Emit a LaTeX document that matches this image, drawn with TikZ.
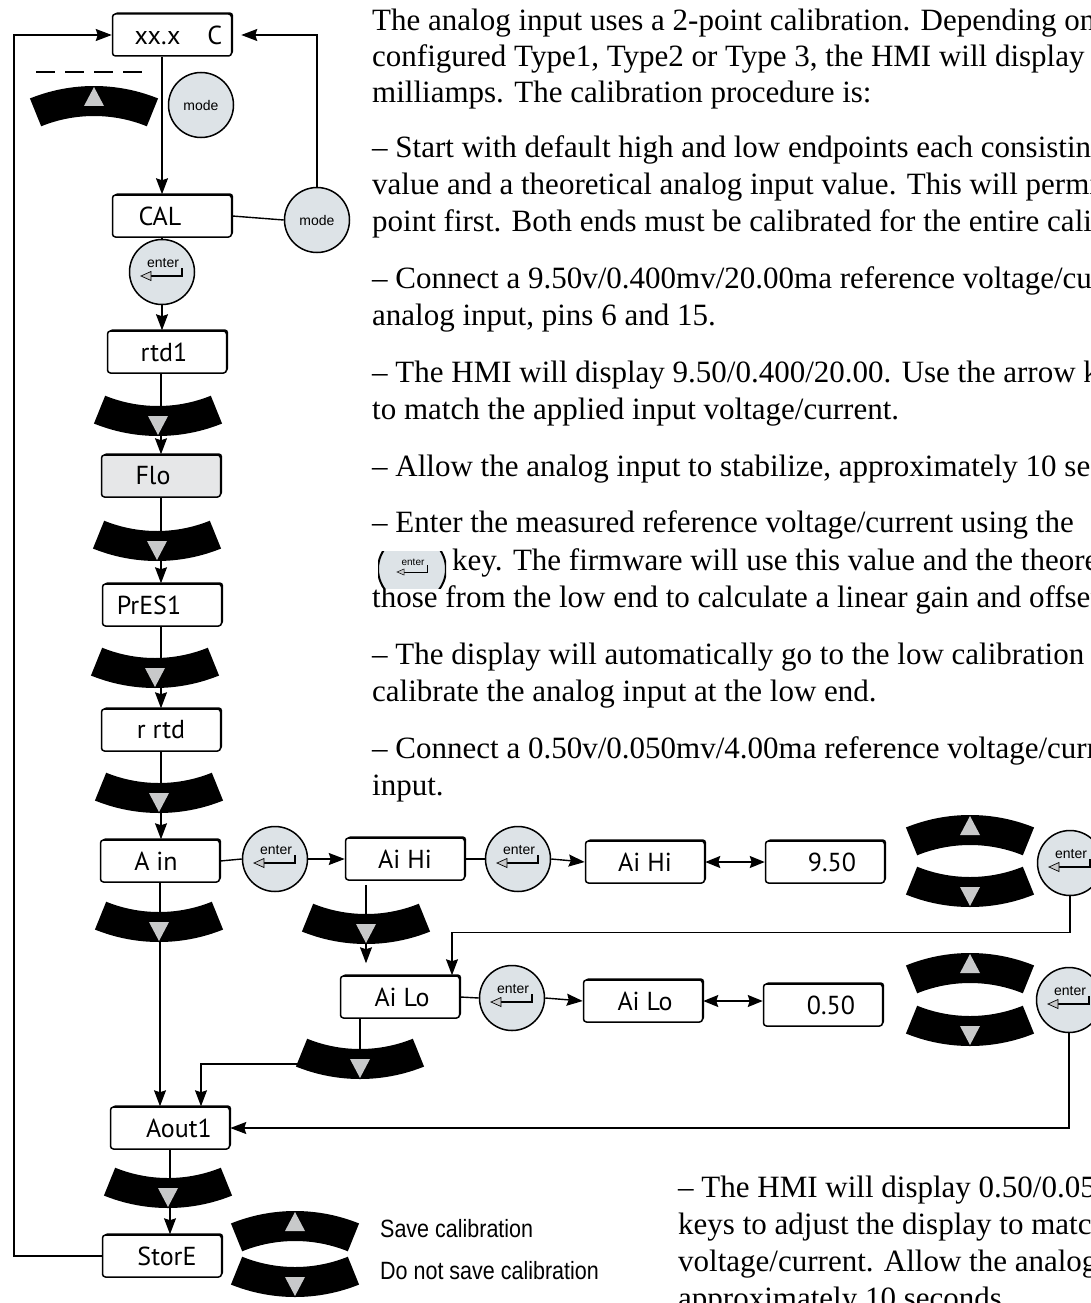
\documentclass[tikz,border=0pt]{standalone}
\usepackage{fontspec}
\setmainfont{Liberation Serif}
\newfontfamily\boxfont{PT Sans}
\newfontfamily\btnfont{Liberation Sans}
\newfontfamily\condfont{Liberation Sans}[FakeStretch=0.86]
\usetikzlibrary{calc,shadows,arrows.meta}
\definecolor{btngrey}{HTML}{DDE3E7}
\definecolor{flogrey}{HTML}{E6E7E8}
\definecolor{trigrey}{HTML}{C8C9CA}
\pgfdeclarelayer{bg}
\pgfsetlayers{bg,main}
\tikzset{
  box/.style={draw, line width=1.5pt, rounded corners=3pt, fill=white,
    minimum width=119pt, minimum height=42pt, inner sep=0pt,
    font=\boxfont\fontsize{26}{26}\selectfont,
    general shadow={fill=black, shadow xshift=1.6pt, shadow yshift=1.6pt}},
  btn/.style={circle, draw, line width=1.5pt, fill=btngrey, minimum size=65pt, inner sep=0pt},
  modetxt/.style={font=\btnfont\fontsize{14}{14}\selectfont},
  entxt/.style={inner sep=0pt, font=\btnfont\fontsize{14}{14}\selectfont},
  conn/.style={line width=1.4pt},
  arr/.style={conn, -{Stealth[length=16pt,width=12pt,inset=2pt]}},
  darr/.style={conn, {Stealth[length=15pt,width=12pt,inset=2pt]}-{Stealth[length=15pt,width=12pt,inset=2pt]}},
  para/.style={anchor=mid west, inner sep=0pt, font=\fontsize{31}{37}\selectfont},
  cond/.style={anchor=mid west, inner sep=0pt, font=\condfont\fontsize{25}{25}\selectfont},
}
% arc-shaped arrow key: name, x, y, 1 = down key, -1 = up key
\newcommand{\keyband}[4]{%
  \coordinate (#1) at (#2,#3);
  \begin{scope}[shift={(#2,#3)}, yscale=#4]
    \fill[black] ([shift={(0,-156)}]68:141) arc[start angle=68, end angle=112, radius=141]
      -- ([shift={(0,-156)}]112:171) arc[start angle=112, end angle=68, radius=171] -- cycle;
    \fill[trigrey] (-10,-5) -- (10,-5) -- (0,14) -- cycle;
  \end{scope}}
% enter button: name, x, y
\newcommand{\enterbtn}[3]{%
  \node[btn] (#1) at (#2,#3) {};
  \node[entxt] (#1-t) at ([shift={(1,-9)}]#1.center) {enter};
  \draw[line width=1.3pt] ([shift={(20,-4)}]#1.center) -- ([shift={(20,4)}]#1.center) -- ([shift={(-11,4)}]#1.center);
  \filldraw[fill=trigrey, line width=0.7pt] ([shift={(-11,-0.5)}]#1.center) -- ([shift={(-11,8.5)}]#1.center) -- ([shift={(-21,4)}]#1.center) -- cycle;}
\begin{document}
\begin{tikzpicture}[x=1pt,y=-1pt]
\useasboundingbox (0,0) rectangle (1091,1303);
\clip (0,0) rectangle (1091,1303);

% ---------- boxes
\node[box] (xx) at (172,35) {\hspace*{13pt}xx.x\hspace{27pt}C};
\node[box] (cal) at (172,216) {\hspace*{-24pt}CAL};
\node[box] (rtd) at (167,352) {\hspace*{-6pt}rtd1};
\node[box, fill=flogrey] (flo) at (161,476) {\hspace*{-16pt}Flo};
\node[box] (pres) at (162,605) {\hspace*{-26pt}PrES1};
\node[box] (rrtd) at (161,730) {r rtd};
\node[box] (ain) at (160,861) {\hspace*{-8pt}A in};
\node[box] (aihi) at (405,859) {Ai Hi};
\node[box] (aihiB) at (645,862) {Ai Hi};
\node[box] (v950) at (825,862) {\hspace*{14pt}9.50};
\node[box] (ailo) at (400,997) {\hspace*{4pt}Ai Lo};
\node[box] (ailoB) at (643,1001) {\hspace*{4pt}Ai Lo};
\node[box] (v050) at (823,1005) {\hspace*{16pt}0.50};
\node[box] (aout) at (170,1128) {\hspace*{18pt}Aout1};
\node[box] (store) at (162,1256) {\hspace*{10pt}StorE};

% ---------- buttons
\node[btn, modetxt] (mode1) at (201,105) {mode};
\node[btn, modetxt] (mode2) at (317,220) {mode};
\enterbtn{ent0}{162}{272}
\enterbtn{ent1}{275}{859}
\enterbtn{ent2}{518}{859}
\enterbtn{ent3}{512}{998}
\enterbtn{entR1}{1070}{863}
\enterbtn{entR2}{1069}{1000}

% ---------- arrow keys
\keyband{kT}{94}{101}{-1}
\keyband{k1}{158}{421}{1}
\keyband{k2}{157}{546}{1}
\keyband{k3}{155}{673}{1}
\keyband{k4}{159}{798}{1}
\keyband{k5}{159}{927}{1}
\keyband{k6}{366}{929}{1}
\keyband{k7}{360}{1064}{1}
\keyband{k8}{168}{1193}{1}
\keyband{kR1u}{970}{830}{-1}
\keyband{kR1d}{970}{892}{1}
\keyband{kR2u}{970}{968}{-1}
\keyband{kR2d}{970}{1031}{1}
\keyband{kSu}{295}{1226}{-1}
\keyband{kSd}{295}{1282}{1}

\draw[line width=1.3pt, dash pattern=on 19pt off 10pt] (36,72) -- (142,72);

% ---------- connectors
\begin{pgfonlayer}{bg}
\coordinate (lft) at (14,0);
\draw[arr] ([xshift=-10pt]xx.south) -- ([xshift=-10pt]xx.south |- cal.north);
\draw[conn] (cal.east) -- (mode2.west);
\draw[arr, shorten >=9pt] (mode2.north) |- (xx.east);
\draw[conn] (cal.south -| ent0) -- (ent0);
\draw[arr] (ent0.south) -- (ent0.south |- rtd.north);
\draw[arr] (flo.north |- rtd.south) -- (flo.north);
\draw[arr] (flo.south) -- (flo.south |- pres.north);
\draw[arr] (rrtd.north |- pres.south) -- (rrtd.north);
\draw[arr] (rrtd.south) -- (rrtd.south |- ain.north);
\draw[arr] (ain.south) -- (ain.south |- aout.north);
\draw[arr] (aout.south) -- (aout.south |- store.north);
\draw[arr] (store.west) -- (store.west -| lft) |- (xx.west);
\draw[conn] (ain.east) -- (ent1.west);
\draw[arr] (ent1.east) -- (aihi.west);
\draw[conn] (aihi.east) -- (ent2.west);
\draw[arr] (ent2.east) -- (aihiB.west);
\draw[darr] (aihiB.east) -- (v950.west);
\draw[arr, shorten <=4pt, shorten >=12pt] (k6 |- aihi.south) -- (k6 |- ailo.north);
\draw[arr] (entR1.south) -- ++(0,36) -| ([xshift=52pt]ailo.north);
\draw[conn] (ailo.east) -- (ent3.west);
\draw[arr] (ent3.east) -- (ailoB.west);
\draw[darr] (ailoB.east) -- (ailoB.east -| v050.west);
\draw[conn] (k7 |- ailo.south) -- (k7);
\draw[arr] (k7) -| ([xshift=31pt]aout.north);
\draw[arr] (entR2.south) |- (aout.east);
\end{pgfonlayer}

% ---------- text
\node[para] (t1) at (372,28) {The analog input uses a 2-point calibration. Depending on};
\node[para] (t2) at (372,64) {configured Type1, Type2 or Type 3, the HMI will display either};
\node[para] (t3) at (372,100) {milliamps. The calibration procedure is:};
\node[para] (t4) at (372,155) {– Start with default high and low endpoints each consisting};
\node[para] (t5) at (372,192) {value and a theoretical analog input value. This will permit};
\node[para] (t6) at (372,229.5) {point first. Both ends must be calibrated for the entire calibration};
\node[para] (t7) at (372,286) {– Connect a 9.50v/0.400mv/20.00ma reference voltage/current};
\node[para] (t8) at (372,323.5) {analog input, pins 6 and 15.};
\node[para] (t9) at (372,380) {– The HMI will display 9.50/0.400/20.00. Use the arrow keys};
\node[para] (t10) at (372,417.5) {to match the applied input voltage/current.};
\node[para] (t11) at (372,474) {– Allow the analog input to stabilize, approximately 10 seconds.};
\node[para] (t12) at (372,530.5) {– Enter the measured reference voltage/current using the};
\node[para] (t13) at (452,568) {key. The firmware will use this value and the theoretical};
\node[para] (t14) at (372,605.5) {those from the low end to calculate a linear gain and offset};
\node[para] (t15) at (372,662) {– The display will automatically go to the low calibration mode};
\node[para] (t16) at (372,699.5) {calibrate the analog input at the low end.};
\node[para] (t17) at (372,756) {– Connect a 0.50v/0.050mv/4.00ma reference voltage/current};
\node[para] (t18) at (372,793.5) {input.};

\node[para] (b1) at (678,1195) {– The HMI will display 0.50/0.050};
\node[para] (b2) at (678,1232) {keys to adjust the display to match};
\node[para] (b3) at (678,1269) {voltage/current. Allow the analog};
\node[para] (b4) at (678,1306) {approximately 10 seconds.};

\node[cond] (sv1) at (380,1235) {Save calibration};
\node[cond] (sv2) at (380,1277) {Do not save calibration};

% inline enter icon
\begin{scope}
\clip (378,551) rectangle (446,588);
\node[btn, minimum size=68pt, line width=2pt] (icon) at (412,569) {};
\node[entxt, font=\btnfont\fontsize{10}{10}\selectfont] (icont) at (413,562) {enter};
\draw[line width=1pt] (427,565) -- (427,572) -- (404,572);
\filldraw[fill=trigrey, line width=0.5pt] (404,569) -- (404,575) -- (397,572) -- cycle;
\end{scope}
\end{tikzpicture}
\end{document}
